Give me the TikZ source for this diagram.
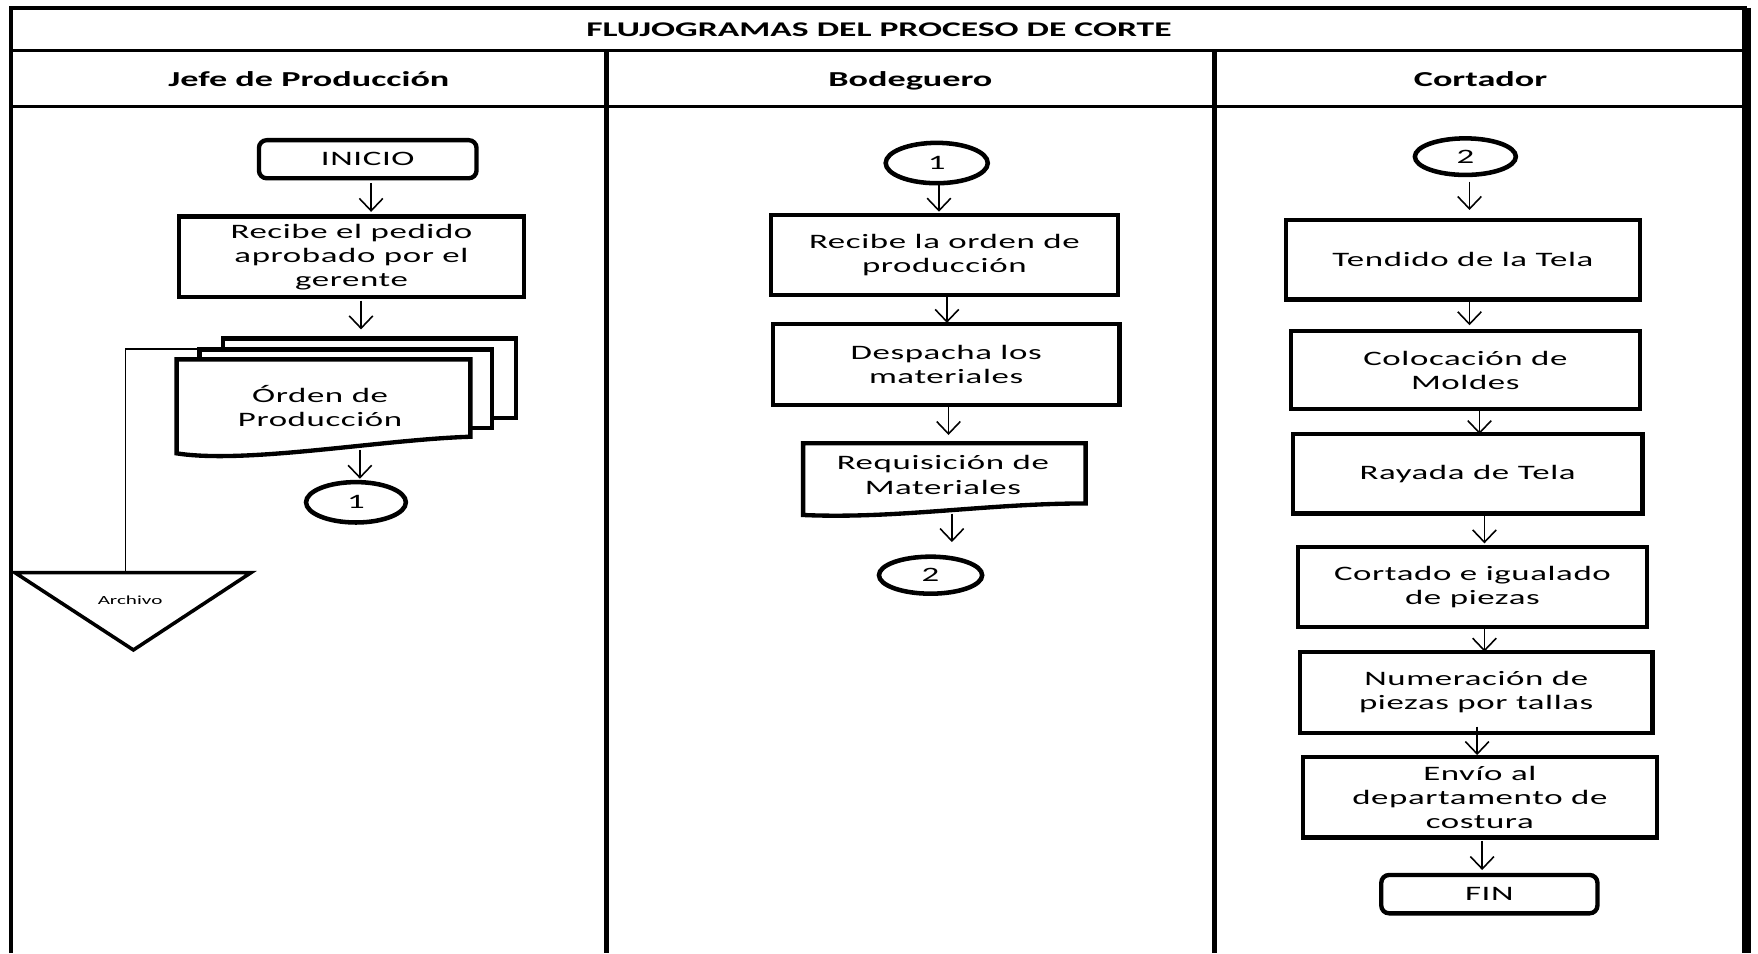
\documentclass[tikz,border=0pt]{standalone}
\usepackage{fontspec}
\setmainfont{Carlito}[FakeStretch=1.7]
\newfontfamily\boxfont{Carlito}[FakeStretch=1.7,LetterSpace=3]
\usetikzlibrary{shapes.geometric,arrows.meta}

\begin{document}
\begin{tikzpicture}[x=0.01cm,y=-0.01cm,
  outerline/.style={line width=0.9pt},
  laneline/.style={line width=1.2pt},
  maintitle/.style={inner sep=0pt,anchor=base,font=\fontsize{5.3pt}{6pt}\selectfont\bfseries},
  lanehead/.style={inner sep=0pt,anchor=base,font=\fontsize{5.4pt}{6pt}\selectfont\bfseries},
  boxtext/.style={font=\boxfont\fontsize{5.2pt}{6.1pt}\selectfont},
  stepbox/.style={draw,line width=1.1pt,rectangle,inner sep=0pt,outer sep=0pt,align=center,boxtext},
  terminal/.style={stepbox,rounded corners=0.07cm},
  offpage/.style={draw,ellipse,line width=1.15pt,inner sep=0pt,outer sep=0pt,boxtext},
  sheet/.style={draw,fill=white,line width=1.1pt,rectangle,inner sep=0pt,outer sep=0pt},
  docarea/.style={rectangle,inner sep=0pt,outer sep=0pt,align=center,boxtext},
  docline/.style={draw,fill=white,line width=1.1pt,line join=miter},
  arr/.style={-{Straight Barb[length=0.11cm,width=0.21cm]},line width=0.4pt},
]
\useasboundingbox (0,0) rectangle (1568,850);

% table frame
\draw[outerline] (10,850) -- (10,7) -- (1558,7);
\draw[line width=2.2pt] (1558,7) -- (1558,850);
\draw[outerline] (10,45) -- (1558,45);
\draw[outerline] (10,95) -- (1558,95);
\draw[laneline] (541,45) -- (541,850);
\draw[laneline] (1083,45) -- (1083,850);

\node[maintitle] (titulo) at (784,32.5) {FLUJOGRAMAS DEL PROCESO DE CORTE};
\node[lanehead] (jefe) at (275.5,77) {Jefe de Producción};
\node[lanehead] (bodeguero) at (812,77) {Bodeguero};
\node[lanehead] (cortador) at (1320.5,77) {Cortador};

% ---- Jefe de Produccion ----
\node[terminal,minimum width=1.94cm,minimum height=0.34cm] (inicio) at (328,142) {INICIO};
\node[stepbox,minimum width=3.07cm,minimum height=0.72cm] (pedido) at (313.5,229)
  {Recibe el pedido\\aprobado por el\\gerente};

% stacked copies of the order document
\node[sheet,minimum width=2.61cm,minimum height=0.712cm] (hoja3) at (329.5,337.4) {};
\node[sheet,minimum width=2.61cm,minimum height=0.704cm] (hoja2) at (308.5,346.8) {};
\node[docarea,minimum width=2.619cm,minimum height=0.69cm] (orden) at (288.55,355) {};
\draw[docline] ([yshift=-0.148cm]orden.south west) -- (orden.north west) -- (orden.north east)
  -- (orden.south east) .. controls +(-79.5,2.5) and +(62.4,9.7) .. ([yshift=-0.148cm]orden.south west) -- cycle;
\node[docarea] (ordentxt) at (285.5,362) {Órden de\\Producción};

\node[offpage,minimum width=0.89cm,minimum height=0.36cm] (uno) at (317.5,448) {1};

% archive
\draw[line width=0.9pt,line join=miter] (13.4,510.8) -- (223.8,510.8) -- (119,579.7) -- cycle;
\node[inner sep=0pt,font=\fontsize{3.15pt}{4pt}\selectfont] (archivo) at (116,535) {Archivo};
\coordinate (archtop) at (112,510.8);
\draw[line width=0.45pt] (hoja2.north west) -| (archtop);

\draw[arr,shorten <=0.04cm,shorten >=0.04cm] ([xshift=0.03cm]inicio.south) -- ([xshift=0.03cm]inicio.south |- pedido.north);
\draw[arr,shorten <=0.03cm,shorten >=0.08cm] ([xshift=0.085cm]pedido.south) -- ([xshift=0.085cm]pedido.south |- hoja3.north);
\draw[arr,shorten >=0.03cm] ([xshift=0.3245cm,yshift=-0.115cm]orden.south) -- ([xshift=0.3245cm]orden.south |- uno.north);

% ---- Bodeguero ----
\node[offpage,minimum width=0.91cm,minimum height=0.36cm] (unob) at (835.5,145.4) {1};
\node[stepbox,minimum width=3.09cm,minimum height=0.713cm] (recibe) at (842.3,227.5)
  {Recibe la orden de\\producción};
\node[stepbox,minimum width=3.09cm,minimum height=0.72cm] (despacha) at (843.9,325)
  {Despacha los\\materiales};
\node[docarea,minimum width=2.518cm,minimum height=0.536cm] (requis) at (842.3,422.2) {};
\draw[docline] ([yshift=-0.103cm]requis.south west) -- (requis.north west) -- (requis.north east)
  -- (requis.south east) .. controls +(-88,0) and +(83.6,3.7) .. ([yshift=-0.103cm]requis.south west) -- cycle;
\node[docarea] (requistxt) at (841,423.6) {Requisición de\\Materiales};
\node[offpage,minimum width=0.92cm,minimum height=0.33cm] (dos) at (830,513) {2};

\draw[arr,shorten >=0.03cm] ([xshift=0.02cm]unob.south) -- ([xshift=0.02cm]unob.south |- recibe.north);
\draw[arr,shorten >=0.01cm] ([xshift=0.023cm]recibe.south) -- ([xshift=0.023cm]recibe.south |- despacha.north);
\draw[arr,shorten <=0.02cm,shorten >=0.074cm] ([xshift=0.021cm]despacha.south) -- ([xshift=0.021cm]despacha.south |- requis.north);
\draw[arr,shorten >=0.13cm] ([xshift=0.067cm,yshift=-0.09cm]requis.south) -- ([xshift=0.067cm]requis.south |- dos.north);

% ---- Cortador ----
\node[offpage,minimum width=0.9cm,minimum height=0.326cm] (dosb) at (1307,139.7) {2};
\node[stepbox,minimum width=3.152cm,minimum height=0.708cm] (tendido) at (1304.9,231.6) {Tendido de la Tela};
\node[stepbox,minimum width=3.11cm,minimum height=0.70cm] (moldes) at (1307,330) {Colocación de\\Moldes};
\node[stepbox,minimum width=3.117cm,minimum height=0.707cm] (rayada) at (1309,422.5) {Rayada de Tela};
\node[stepbox,minimum width=3.115cm,minimum height=0.713cm] (cortado) at (1313.3,523.3) {Cortado e igualado\\de piezas};
\node[stepbox,minimum width=3.14cm,minimum height=0.723cm] (numera) at (1316.7,617.4) {Numeración de\\piezas por tallas};
\node[stepbox,minimum width=3.158cm,minimum height=0.719cm] (envio) at (1319.9,710.9) {Envío al\\departamento de\\costura};
\node[terminal,minimum width=1.927cm,minimum height=0.342cm] (fin) at (1328.4,797.5) {FIN};

\draw[arr,shorten <=0.06cm,shorten >=0.089cm] ([xshift=0.037cm]dosb.south) -- ([xshift=0.037cm]dosb.south |- tendido.north);
\draw[arr,shorten >=0.049cm] ([xshift=0.058cm]tendido.south) -- ([xshift=0.058cm]tendido.south |- moldes.north);
\draw[arr] ([xshift=0.126cm]moldes.south) -- ([xshift=0.126cm]moldes.south |- rayada.north);
\draw[arr,shorten <=0.015cm,shorten >=0.03cm] ([xshift=0.15cm]rayada.south) -- ([xshift=0.15cm]rayada.south |- cortado.north);
\draw[arr,shorten <=-0.015cm] ([xshift=0.107cm]cortado.south) -- ([xshift=0.107cm]cortado.south |- numera.north);
\draw[arr,shorten <=-0.055cm,shorten >=0.015cm] ([xshift=0.008cm]numera.south) -- ([xshift=0.008cm]numera.south |- envio.north);
\draw[arr,shorten <=0.03cm,shorten >=0.044cm] ([xshift=0.021cm]envio.south) -- ([xshift=0.021cm]envio.south |- fin.north);
\end{tikzpicture}
\end{document}
